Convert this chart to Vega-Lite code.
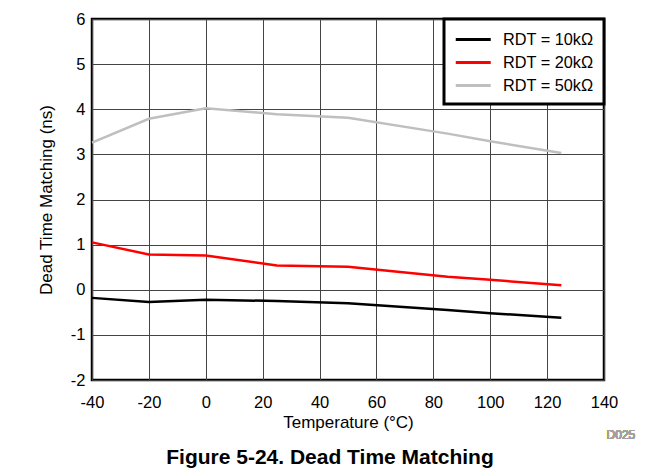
{
  "$schema": "https://vega.github.io/schema/vega-lite/v6.json",
  "autosize": "none",
  "width": 512,
  "height": 361,
  "padding": {"left": 92, "top": 19, "right": 59, "bottom": 96},
  "background": "white",
  "config": {
    "font": "Liberation Sans",
    "view": {"stroke": "black", "strokeWidth": 2.5},
    "axis": {
      "labelFont": "Liberation Sans",
      "titleFont": "Liberation Sans",
      "labelFontSize": 16.5,
      "titleFontSize": 17,
      "titleFontWeight": "normal",
      "labelColor": "black",
      "titleColor": "black",
      "domain": false,
      "ticks": false,
      "labelFlush": false,
      "labelOverlap": false,
      "gridColor": "#444444",
      "gridWidth": 1,
      "gridOpacity": 1,
      "labelExpr": "datum.value < 0 ? '-' + abs(datum.value) : '' + datum.value"
    }
  },
  "title": {
    "text": "Figure 5-24. Dead Time Matching",
    "orient": "bottom",
    "anchor": "middle",
    "frame": "group",
    "dx": -18,
    "offset": 6,
    "fontSize": 21,
    "fontWeight": "bold",
    "font": "Liberation Sans",
    "color": "black"
  },
  "data": {
    "values": [
      {"t": -40, "v": -0.18, "s": "RDT = 10kΩ"},
      {"t": -20, "v": -0.27, "s": "RDT = 10kΩ"},
      {"t": 0, "v": -0.22, "s": "RDT = 10kΩ"},
      {"t": 25, "v": -0.25, "s": "RDT = 10kΩ"},
      {"t": 50, "v": -0.3, "s": "RDT = 10kΩ"},
      {"t": 85, "v": -0.45, "s": "RDT = 10kΩ"},
      {"t": 100, "v": -0.52, "s": "RDT = 10kΩ"},
      {"t": 125, "v": -0.62, "s": "RDT = 10kΩ"},
      {"t": -40, "v": 1.05, "s": "RDT = 20kΩ"},
      {"t": -20, "v": 0.78, "s": "RDT = 20kΩ"},
      {"t": 0, "v": 0.76, "s": "RDT = 20kΩ"},
      {"t": 25, "v": 0.54, "s": "RDT = 20kΩ"},
      {"t": 50, "v": 0.51, "s": "RDT = 20kΩ"},
      {"t": 85, "v": 0.29, "s": "RDT = 20kΩ"},
      {"t": 100, "v": 0.22, "s": "RDT = 20kΩ"},
      {"t": 125, "v": 0.1, "s": "RDT = 20kΩ"},
      {"t": -40, "v": 3.26, "s": "RDT = 50kΩ"},
      {"t": -20, "v": 3.79, "s": "RDT = 50kΩ"},
      {"t": 0, "v": 4.02, "s": "RDT = 50kΩ"},
      {"t": 25, "v": 3.89, "s": "RDT = 50kΩ"},
      {"t": 50, "v": 3.81, "s": "RDT = 50kΩ"},
      {"t": 85, "v": 3.46, "s": "RDT = 50kΩ"},
      {"t": 100, "v": 3.29, "s": "RDT = 50kΩ"},
      {"t": 125, "v": 3.03, "s": "RDT = 50kΩ"}
    ]
  },
  "layer": [
    {
      "mark": {"type": "line", "strokeWidth": 2.5},
      "encoding": {
        "x": {
          "field": "t",
          "type": "quantitative",
          "scale": {"domain": [-40, 140], "nice": false, "zero": false},
          "axis": {"values": [-40, -20, 0, 20, 40, 60, 80, 100, 120, 140], "title": "Temperature (°C)", "labelPadding": 14, "titlePadding": 4}
        },
        "y": {
          "field": "v",
          "type": "quantitative",
          "scale": {"domain": [-2, 6], "nice": false, "zero": false},
          "axis": {"values": [-2, -1, 0, 1, 2, 3, 4, 5, 6], "title": "Dead Time Matching (ns)", "labelPadding": 7, "titlePadding": 15}
        },
        "color": {
          "field": "s",
          "type": "nominal",
          "scale": {"domain": ["RDT = 10kΩ", "RDT = 20kΩ", "RDT = 50kΩ"], "range": ["#000000", "#ff0000", "#bfbfbf"]},
          "legend": {
            "title": null,
            "orient": "top-right",
            "offset": 0,
            "fillColor": "white",
            "strokeColor": "black",
            "padding": 10,
            "symbolType": "M-1,0L3,0",
            "symbolStrokeWidth": 3,
            "symbolSize": 306,
            "labelFontSize": 16.3,
            "labelColor": "black",
            "labelFont": "Liberation Sans",
            "rowPadding": 4,
            "labelOffset": 28,
            "encode": {"legend": {"update": {"strokeWidth": {"value": 3}}}}
          }
        }
      }
    },
    {
      "mark": {"type": "text", "align": "right", "baseline": "middle", "fontSize": 12, "color": "#a0a0a0", "clip": false},
      "encoding": {
        "x": {"datum": 151},
        "y": {"datum": -3.22},
        "text": {"value": "D025"}
      }
    }
  ]
}
